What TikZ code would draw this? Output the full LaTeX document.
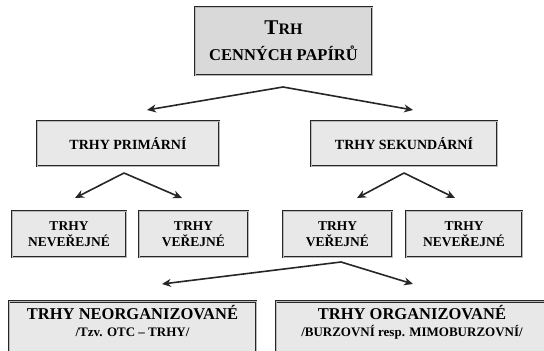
\documentclass[tikz,border=0pt]{standalone}
\usepackage{fontspec}
\setmainfont{Liberation Serif}
\usetikzlibrary{arrows.meta}

\begin{document}
\begin{tikzpicture}[x=1pt,y=-1pt,
    box/.style={draw=black!85,line width=0.9pt,double=gray!55,double distance=0.6pt,
      fill=gray!18,align=center,inner sep=0pt,font=\bfseries},
    arr/.style={line width=1.6pt,black!85,-{Stealth[length=9pt,width=8pt]}}]
      \clip (0,0) rectangle (544,351);
      % level 1
      \node[box,fill=gray!30,minimum width=177pt,minimum height=68pt] (trh) at (283.5,41)
        {{\fontsize{21}{21}\selectfont T}{\fontsize{16}{16}\selectfont RH}\\[10pt]
         \fontsize{16.5}{17}\selectfont CENNÝCH PAPÍRŮ};
      % level 2
      \node[box,minimum width=182pt,minimum height=45pt,font=\bfseries\fontsize{14}{16}\selectfont] (prim) at (128,143.5) {TRHY PRIMÁRNÍ};
      \node[box,minimum width=186pt,minimum height=45pt,font=\bfseries\fontsize{14}{16}\selectfont] (sek) at (404,143.5) {TRHY SEKUNDÁRNÍ};
      % level 3
      \tikzset{small/.style={box,minimum height=46pt,font=\bfseries\fontsize{13.5}{16}\selectfont}}
      \node[small,minimum width=114pt] (nev1) at (69,234) {TRHY\\NEVEŘEJNÉ};
      \node[small,minimum width=109pt] (ver1) at (193.5,234) {TRHY\\VEŘEJNÉ};
      \node[small,minimum width=109pt] (ver2) at (337.5,234) {TRHY\\VEŘEJNÉ};
      \node[small,minimum width=116pt] (nev2) at (464,234) {TRHY\\NEVEŘEJNÉ};
      % level 4
      \tikzset{big/.style={box,minimum height=62pt,anchor=north,font=\bfseries\fontsize{16.5}{18}\selectfont}}
      \node[big,minimum width=247pt] (neorg) at (132.5,301)
        {TRHY NEORGANIZOVANÉ\\[-1pt]
         {\fontsize{13}{14}\selectfont /Tzv. OTC -- TRHY/}\\[5pt]};
      \node[big,minimum width=272pt] (org) at (412,301)
        {TRHY ORGANIZOVANÉ\\[-1pt]
         {\fontsize{13}{14}\selectfont /BURZOVNÍ resp. MIMOBURZOVNÍ/}\\[5pt]};
      % arrows
      \coordinate (a1) at (283,87);
      \coordinate (a2) at (124,173);
      \coordinate (a3) at (404,173);
      \coordinate (a4) at (341,262);
      \draw[arr] (a1) -- (147,110);
      \draw[arr] (a1) -- (413,110);
      \draw[arr] (a2) -- (75,198);
      \draw[arr] (a2) -- (182,198);
      \draw[arr] (a3) -- (357,198);
      \draw[arr] (a3) -- (455,198);
      \draw[arr] (a4) -- (162,284);
      \draw[arr] (a4) -- (413,284);
\end{tikzpicture}
\end{document}
